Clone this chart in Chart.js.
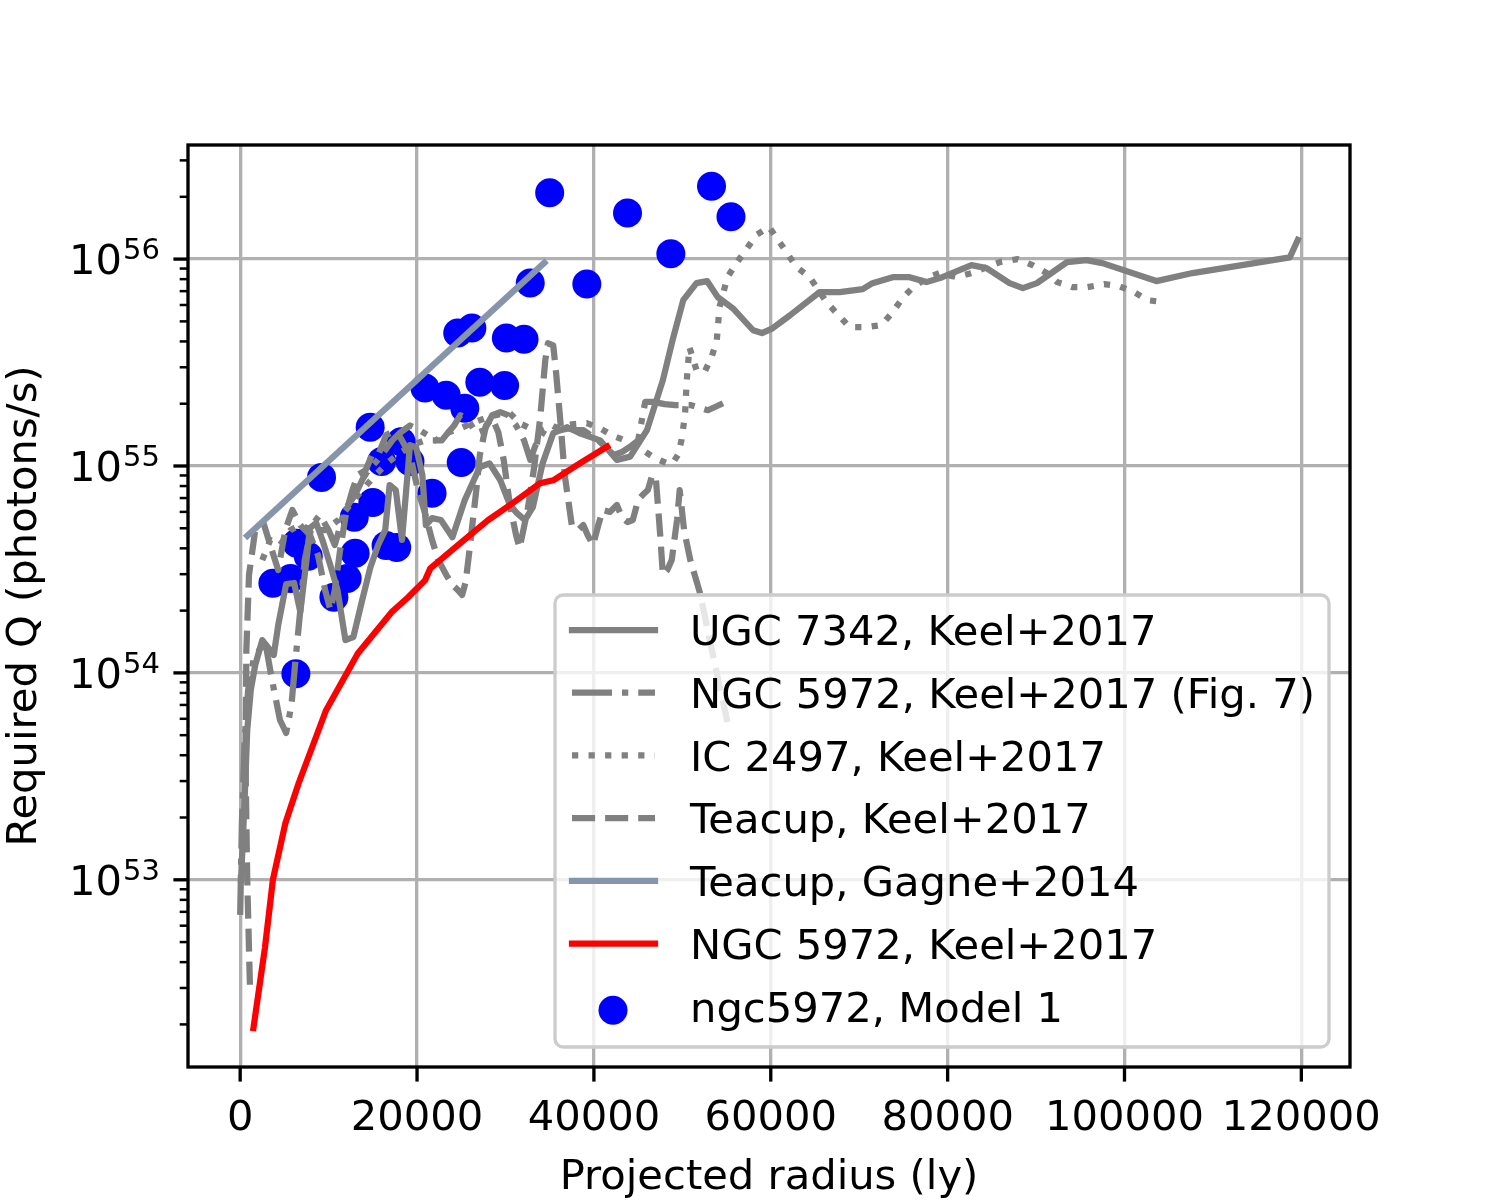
<!DOCTYPE html>
<html>
<head>
<meta charset="utf-8">
<script src="https://cdn.jsdelivr.net/npm/chart.js@4.4.1/dist/chart.umd.min.js"></script>
<style>
  html, body { margin: 0; padding: 0; background: #fff; }
  #wrap { width: 1500px; height: 1200px; }
</style>
</head>
<body>
<div id="wrap"><canvas id="chart" width="1500" height="1200"></canvas></div>
<script>
// tick values
const xTicks = [0, 20000, 40000, 60000, 80000, 100000, 120000];
const yTicks = [1e53, 1e54, 1e55, 1e56];

// UGC 7342, Keel+2017 (radius in ly, Q in photons/s)
const ugcR = [100, 500, 800, 1200, 1700, 2500, 3200, 3800, 4300, 5200, 6100, 6800, 7500, 7900, 8600,
  9300, 10200, 11000, 11900, 12800, 13800, 14700, 15600, 16400, 16900, 17600, 18300, 19200, 19900, 20600,
  21000, 21700, 22700, 24000, 25400, 27100, 28200, 29400, 30500, 31300, 32200, 33100, 34200, 35400, 37000,
  38400, 40700, 42600, 44100, 46000, 47800, 48900, 50100, 51600, 52800, 54000, 55700, 58000, 59000, 60200,
  62200, 65500, 67800, 70400, 71500, 73800, 75700, 77600, 79400, 82700, 84400, 87000, 88500, 90100, 93500,
  95700, 97500, 103600, 107700, 118700, 119600];
const ugcQ = [1.0e53, 2.43e53, 5.30e53, 8.27e53, 1.09e54, 1.44e54, 1.32e54, 1.22e54, 1.70e54, 2.69e54,
  2.72e54, 1.97e54, 3.51e54, 5.02e54, 5.30e54, 4.39e54, 3.31e54, 2.52e54, 1.44e54, 1.49e54,
  2.25e54, 3.21e54, 4.15e54, 4.90e54, 8.09e54, 7.65e54, 4.39e54, 1.26e55, 1.23e55, 9.05e54,
  5.18e54, 5.60e54, 5.48e54, 4.53e54, 6.85e54, 9.89e54, 1.03e55, 8.56e54, 6.48e54, 5.92e54,
  5.48e54, 6.33e54, 1.03e55, 1.44e55, 1.54e55, 1.44e55, 1.33e55, 1.07e55, 1.11e55, 1.49e55,
  2.60e55, 4.06e55, 6.33e55, 7.65e55, 7.83e55, 6.55e55, 5.79e55, 4.53e55, 4.39e55, 4.63e55,
  5.36e55, 6.92e55, 6.92e55, 7.16e55, 7.65e55, 8.18e55, 8.18e55, 7.74e55, 8.18e55, 9.35e55,
  9.05e55, 7.65e55, 7.24e55, 7.65e55, 9.67e55, 9.89e55, 9.56e55, 7.83e55, 8.56e55, 1.02e56, 1.24e56];

// NGC 5972, Keel+2017 (Fig. 7)
const fig7R = [0, 200, 500, 900, 1500, 2300, 2900, 3600, 4500, 5200, 5800, 6200, 6800, 7300, 8100,
  9000, 10000, 10700, 11500, 12200, 13000, 13800, 14500, 15300, 16000, 17200, 18100, 19200, 20300, 21200,
  22100, 22800, 23500, 24200, 24900, 25800, 26700, 27600, 28500, 29400, 30300, 31200, 32100, 32800, 33400,
  34400, 35300, 36200, 37100, 38000, 38800, 39600, 40500, 41400, 42300, 43200, 44100, 45000, 45800, 46700,
  48000, 49200, 50900, 52900, 54600];
const fig7Q = [6.77e52, 1.95e53, 4.74e53, 8.27e53, 1.15e54, 1.32e54, 1.36e54, 9.25e53, 5.92e53, 5.13e53,
  7.00e53, 1.09e54, 2.01e54, 3.51e54, 5.18e54, 5.79e54, 4.90e54, 4.15e54, 5.48e54, 6.48e54,
  7.24e54, 8.56e54, 9.56e54, 1.04e55, 1.13e55, 1.33e55, 1.45e55, 1.57e55, 1.49e55, 1.41e55,
  1.33e55, 1.33e55, 1.45e55, 1.57e55, 1.76e55, 1.66e55, 1.44e55, 1.49e55, 1.76e55, 1.82e55,
  1.76e55, 1.57e55, 1.33e55, 1.07e55, 1.26e55, 1.49e55, 1.57e55, 1.49e55, 1.52e55, 1.49e55,
  1.49e55, 1.41e55, 1.33e55, 1.22e55, 1.13e55, 1.17e55, 1.24e55, 1.33e55, 2.04e55, 2.04e55,
  1.99e55, 1.97e55, 1.97e55, 1.86e55, 2.01e55];

// IC 2497, Keel+2017
const icR = [2500, 3400, 4500, 5700, 6800, 8100, 9600, 11100, 12400, 13800, 15300, 16700, 18100, 19400, 20900,
  22100, 23500, 24900, 26200, 28000, 29400, 30500, 31600, 32800, 33900, 35000, 36200, 37500, 39200, 40700,
  42000, 43500, 45200, 46900, 48300, 48900, 49500, 49900, 50300, 50500, 50800, 51600, 52500, 53300, 53900,
  54200, 55100, 56200, 58400, 59800, 61400, 62900, 64400, 66300, 68900, 70900, 72500, 73700, 74900, 76000,
  77600, 79100, 81000, 82700, 85900, 87900, 89600, 91200, 92400, 94100, 95800, 97700, 99400, 101100, 102600,
  104500];
const icQ = [3.51e54, 4.39e54, 4.15e54, 4.90e54, 5.18e54, 4.90e54, 4.90e54, 5.48e54, 6.48e54, 7.65e54,
  9.05e54, 1.04e55, 1.16e55, 1.26e55, 1.33e55, 1.33e55, 1.45e55, 1.52e55, 1.61e55, 1.72e55,
  1.78e55, 1.80e55, 1.61e55, 1.52e55, 1.49e55, 1.52e55, 1.54e55, 1.59e55, 1.61e55, 1.52e55,
  1.41e55, 1.33e55, 1.22e55, 1.09e55, 1.03e55, 1.03e55, 1.13e55, 1.33e55, 1.76e55, 2.60e55,
  3.75e55, 2.91e55, 2.84e55, 3.35e55, 4.06e55, 5.86e55, 8.18e55, 9.67e55, 1.31e56, 1.43e56,
  1.14e56, 9.15e55, 8.18e55, 6.19e55, 4.69e55, 4.69e55, 4.80e55, 5.48e55, 6.48e55, 7.24e55,
  8.09e55, 8.56e55, 8.18e55, 8.56e55, 9.67e55, 1.0e56, 9.35e55, 8.56e55, 7.74e55, 7.32e55,
  7.32e55, 7.57e55, 7.40e55, 6.92e55, 6.33e55, 6.19e55];

// Teacup, Keel+2017
const teaR = [1100, 800, 600, 700, 1000, 1700, 2600, 3400, 4300, 5100, 5900, 6800, 7900, 8800, 9600,
  10200, 10700, 11300, 12000, 12700, 13300, 14200, 14900, 15600, 16500, 17600, 18300, 19200, 20100, 20800,
  21700, 22400, 23300, 24000, 24600, 25100, 25500, 26000, 26700, 27100, 27800, 28500, 29200, 29800, 30500,
  31200, 31600, 32500, 33200, 33900, 34500, 34800, 35400, 35700, 36200, 36700, 37500, 38200, 38800, 39300,
  39900, 40500, 41000, 41800, 42600, 43200, 43800, 44400, 45000, 45500, 46100, 46600, 47000, 47500, 47800,
  48300, 48800, 49400, 49700, 50200, 50900, 52000, 53100, 54300, 55100];
const teaQ = [3.11e52, 1.0e53, 3.80e53, 1.29e54, 2.98e54, 4.90e54, 5.36e54, 4.15e54, 3.14e54, 4.90e54,
  6.13e54, 5.18e54, 4.63e54, 3.71e54, 2.52e54, 2.01e54, 2.52e54, 3.92e54, 6.00e54, 7.65e54,
  9.05e54, 9.56e54, 1.13e55, 1.13e55, 1.41e55, 1.49e55, 1.33e55, 1.13e55, 7.65e54, 6.13e54,
  4.39e54, 3.51e54, 2.98e54, 2.66e54, 2.52e54, 2.38e54, 2.75e54, 4.15e54, 7.65e54, 1.13e55,
  1.57e55, 1.70e55, 1.45e55, 1.07e55, 6.48e54, 4.63e54, 4.01e54, 6.13e54, 9.56e54, 1.66e55,
  3.24e55, 3.92e55, 3.83e55, 2.90e55, 1.66e55, 9.05e54, 5.18e54, 4.90e54, 5.18e54, 4.63e54,
  4.15e54, 5.18e54, 6.13e54, 6.00e54, 6.48e54, 5.60e54, 5.36e54, 5.48e54, 6.85e54, 7.24e54,
  7.65e54, 9.05e54, 8.75e54, 4.63e54, 2.98e54, 3.14e54, 3.51e54, 5.48e54, 7.65e54, 4.90e54,
  3.51e54, 2.43e54, 1.44e54, 8.27e53, 5.79e53];

// Teacup, Gagne+2014
const gagR = [800, 34400];
const gagQ = [4.6e54, 9.6e55];

// NGC 5972, Keel+2017
const ngcR = [1500, 2800, 3700, 5100, 6600, 9700, 13300, 17100, 19000, 20900, 21500, 24900, 28000, 30800,
  33900, 35400, 38400, 41500];
const ngcQ = [1.92e52, 4.69e52, 1.0e53, 1.87e53, 2.92e53, 6.58e53, 1.24e54, 1.96e54, 2.32e54, 2.80e54,
  3.20e54, 4.24e54, 5.46e54, 6.61e54, 8.25e54, 8.53e54, 1.03e55, 1.24e55];

// ngc5972, Model 1
const modelR = [3700, 5700, 6300, 6400, 7700, 9200, 10600, 12100, 12900, 13000, 14700, 15000, 16000, 16500,
  17700, 18200, 19200, 21700, 20900, 23300, 25000, 25400, 24600, 26200, 27100, 29900, 30100, 32100, 32800,
  35000, 39200, 43800, 48700, 53300, 55500];
const modelQ = [2.71e54, 2.86e54, 9.9e53, 4.23e54, 3.66e54, 8.81e54, 2.32e54, 2.86e54, 5.65e54, 3.79e54,
  1.54e55, 6.67e54, 1.05e55, 4.13e54, 4.04e54, 1.31e55, 1.05e55, 7.38e54, 2.38e55, 2.20e55,
  1.04e55, 1.90e55, 4.39e55, 4.64e55, 2.54e55, 2.45e55, 4.15e55, 4.10e55, 7.66e55, 2.09e56,
  7.57e55, 1.67e56, 1.06e56, 2.25e56, 1.60e56];

const FONT = 'DejaVu Sans';
const FS = 41.67;
const GREY = '#808080';
const LW = 6.25;

Chart.defaults.font.family = FONT;

function pts(xs, ys) {
  return xs.map((x, i) => ({ x: x, y: ys[i] }));
}

function lineSet(label, xs, ys, color, dash, order) {
  return {
    label: label,
    data: pts(xs, ys),
    showLine: true,
    pointRadius: 0,
    borderColor: color,
    backgroundColor: color,
    borderWidth: LW,
    borderDash: dash,
    borderCapStyle: dash.length ? 'butt' : 'square',
    borderJoinStyle: 'round',
    tension: 0,
    fill: false,
    order: order
  };
}

// frame, tick marks, superscript y labels and the in-axes legend
const mplLook = {
  id: 'mplLook',
  afterDatasetsDraw(chart) {
    const ctx = chart.ctx, a = chart.chartArea;
    ctx.save();
    ctx.strokeStyle = '#000';
    ctx.lineWidth = 3.33;
    ctx.strokeRect(a.left, a.top, a.right - a.left, a.bottom - a.top);
    ctx.restore();
  },
  afterDraw(chart) {
    const ctx = chart.ctx, a = chart.chartArea;
    const xs = chart.scales.x, ys = chart.scales.y;
    ctx.save();
    ctx.strokeStyle = '#000';

    function tick(x1, y1, x2, y2) {
      ctx.beginPath();
      ctx.moveTo(x1, y1);
      ctx.lineTo(x2, y2);
      ctx.stroke();
    }

    ctx.lineWidth = 3.33;
    xTicks.forEach(v => {
      const p = xs.getPixelForValue(v);
      tick(p, a.bottom, p, a.bottom + 14.6);
    });
    yTicks.forEach(v => {
      const p = ys.getPixelForValue(v);
      tick(a.left - 14.6, p, a.left, p);
    });

    // minor log ticks
    ctx.lineWidth = 2.5;
    for (let k = 52; k <= 56; k++) {
      for (let m = 2; m <= 9; m++) {
        const v = m * Math.pow(10, k);
        if (v < ys.min || v > ys.max) continue;
        const p = ys.getPixelForValue(v);
        tick(a.left - 8.3, p, a.left, p);
      }
    }

    // y tick labels 10^n
    ctx.fillStyle = '#000';
    ctx.textAlign = 'right';
    ctx.textBaseline = 'alphabetic';
    yTicks.forEach(v => {
      const p = ys.getPixelForValue(v);
      const exp = String(Math.round(Math.log10(v)));
      ctx.font = '29px "' + FONT + '"';
      const ew = ctx.measureText(exp).width;
      ctx.fillText(exp, 160, p);
      ctx.font = FS + 'px "' + FONT + '"';
      ctx.fillText('10', 160 - ew - 1, p + 15);
    });

    // legend
    const L = { left: 555, top: 595, right: 1329, bottom: 1047, r: 8.3 };
    ctx.beginPath();
    ctx.roundRect(L.left, L.top, L.right - L.left, L.bottom - L.top, L.r);
    ctx.fillStyle = 'rgba(255,255,255,0.8)';
    ctx.fill();
    ctx.strokeStyle = '#cccccc';
    ctx.lineWidth = 3.33;
    ctx.stroke();

    const rowTop = 630, rowStep = 62.7;
    chart.data.datasets.forEach((ds, i) => {
      const cy = rowTop + i * rowStep;
      if (ds.showLine) {
        ctx.save();
        ctx.strokeStyle = ds.borderColor;
        ctx.lineWidth = ds.borderWidth;
        ctx.setLineDash(ds.borderDash);
        ctx.lineCap = ds.borderCapStyle;
        ctx.beginPath();
        ctx.moveTo(572, cy);
        ctx.lineTo(655, cy);
        ctx.stroke();
        ctx.restore();
      } else {
        ctx.beginPath();
        ctx.arc(613, cy + 4, ds.pointRadius, 0, Math.PI * 2);
        ctx.fillStyle = ds.backgroundColor;
        ctx.fill();
      }
      ctx.fillStyle = '#000';
      ctx.textAlign = 'left';
      ctx.font = FS + 'px "' + FONT + '"';
      ctx.fillText(ds.label, 690, cy + 15.3);
    });
    ctx.restore();
  }
};

new Chart(document.getElementById('chart'), {
  type: 'scatter',
  data: {
    datasets: [
      lineSet('UGC 7342, Keel+2017', ugcR, ugcQ, GREY, [], 6),
      lineSet('NGC 5972, Keel+2017 (Fig. 7)', fig7R, fig7Q, GREY, [40, 10, 6.25, 10], 5),
      lineSet('IC 2497, Keel+2017', icR, icQ, GREY, [6.25, 10.3], 4),
      lineSet('Teacup, Keel+2017', teaR, teaQ, GREY, [23.1, 10], 3),
      lineSet('Teacup, Gagne+2014', gagR, gagQ, '#8795ab', [], 2),
      lineSet('NGC 5972, Keel+2017', ngcR, ngcQ, '#ff0000', [], 1),
      {
        label: 'ngc5972, Model 1',
        data: pts(modelR, modelQ),
        showLine: false,
        pointRadius: 14.5,
        pointHoverRadius: 14.5,
        backgroundColor: '#0000ff',
        borderWidth: 0,
        order: 7
      }
    ]
  },
  options: {
    responsive: false,
    animation: false,
    devicePixelRatio: 1,
    events: [],
    layout: { padding: { top: 145, right: 150, left: 0, bottom: 0 } },
    plugins: {
      legend: { display: false },
      tooltip: { enabled: false }
    },
    scales: {
      x: {
        type: 'linear',
        min: -5900,
        max: 125500,
        afterBuildTicks: s => { s.ticks = xTicks.map(v => ({ value: v })); },
        afterFit: s => { s.height = 133; },
        grid: { color: '#b0b0b0', lineWidth: 3.33, drawTicks: false },
        border: { display: false },
        ticks: {
          autoSkip: false,
          maxRotation: 0,
          padding: 27,
          color: '#000',
          font: { size: FS },
          callback: v => String(v)
        },
        title: {
          display: true,
          text: 'Projected radius (ly)',
          color: '#000',
          font: { size: FS },
          padding: { top: 0, bottom: -3 }
        }
      },
      y: {
        type: 'logarithmic',
        min: 1.245e52,
        max: 3.56e56,
        afterBuildTicks: s => { s.ticks = yTicks.map(v => ({ value: v })); },
        afterFit: s => { s.width = 188; },
        grid: { color: '#b0b0b0', lineWidth: 3.33, drawTicks: false },
        border: { display: false },
        ticks: { display: false },
        title: {
          display: true,
          text: 'Required Q (photons/s)',
          color: '#000',
          font: { size: FS },
          padding: 0
        }
      }
    }
  },
  plugins: [mplLook]
});
</script>
</body>
</html>
